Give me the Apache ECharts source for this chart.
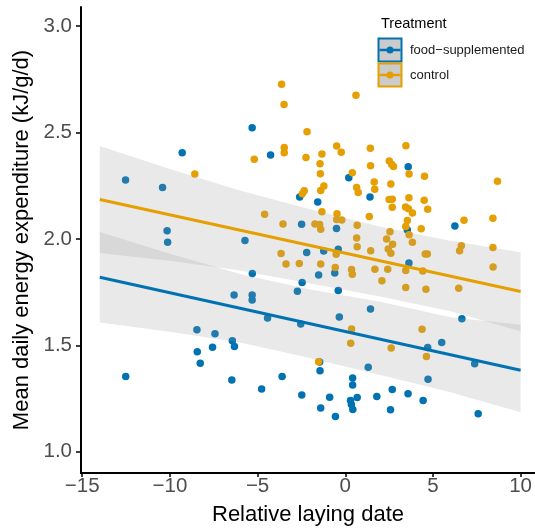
<!DOCTYPE html>
<html><head><meta charset="utf-8">
<script src="https://cdn.jsdelivr.net/npm/echarts@6/dist/echarts.min.js"></script>
<style>html,body{margin:0;padding:0;background:#fff}#c{width:535px;height:528px}</style>
</head><body><div id="c"></div>
<script>
// ---- data ----
const xTicks = [-15, -10, -5, 0, 5, 10];
const yTicks = [1.0, 1.5, 2.0, 2.5, 3.0];
const groups = ['food\u2212supplemented', 'control'];

const foodX = [-12.53,-12.52,-10.42,-10.16,-10.13,-9.3,-8.46,-8.44,-8.27,-7.57,-7.43,-6.47,-6.44,-6.32,-6.34,-5.72,-5.31,-5.3,-5.31,-5.31,-4.77,-4.43,-4.26,-3.6,-2.73,-2.6,-2.49,-2.46,-2.54,-2.48,-2.2,-1.57,-1.52,-1.44,-1.46,-1.4,-1.23,-0.89,-0.56,-0.6,-0.5,-0.4,-0.4,-0.34,0.2,0.3,0.35,0.42,0.42,0.43,0.68,1.31,1.41,1.44,1.8,2.58,2.68,3.59,3.54,3.63,3.58,4.44,4.7,4.72,5.5,6.25,6.65,7.38,7.58];
const foodY = [2.277,1.353,2.242,2.038,1.984,2.405,1.573,1.47,1.416,1.491,1.555,1.337,1.521,1.495,1.737,1.993,2.522,1.838,1.736,1.713,1.295,1.629,2.394,1.353,1.754,2.197,2.069,1.795,1.6,1.267,1.936,2.174,1.831,1.38,1.422,1.205,1.943,1.256,1.166,1.84,2.049,1.951,1.758,1.633,2.288,1.241,1.222,1.346,1.314,1.198,1.255,1.397,2.197,1.671,1.259,1.197,1.292,2.339,2.042,1.887,1.272,1.241,1.49,1.341,1.513,2.061,1.625,1.414,1.178];

const ctrlX = [-8.58,-5.19,-4.6,-3.63,-3.49,-3.48,-3.48,-3.55,-3.66,-3.38,-2.62,-2.18,-2.24,-2.34,-2.45,-1.73,-1.46,-1.4,-1.33,-1.4,-1.52,-1.4,-1.22,-1.42,-1.44,-1.33,-0.49,-0.23,-0.47,-0.49,-0.2,-0.52,-0.57,0.36,0.4,0.4,0.61,0.65,0.74,0.68,0.65,0.68,0.36,0.31,1.43,1.44,1.65,1.68,1.37,1.45,1.69,2.09,2.36,2.45,2.55,2.51,2.65,2.75,2.6,2.5,2.68,2.68,2.6,2.7,2.42,2.62,3.46,3.64,3.63,3.44,3.6,3.83,3.45,3.54,3.64,3.83,3.45,3.45,4.52,4.5,4.7,4.33,4.42,4.56,4.68,4.6,4.38,4.63,6.77,6.62,6.52,6.47,8.42,8.68,8.42,8.43];
const ctrlY = [2.305,2.375,2.116,2.727,2.632,2.43,2.405,2.07,1.932,1.882,1.884,2.504,2.383,2.226,2.212,2.07,2.068,2.045,2.128,1.882,1.423,2.228,2.249,2.306,2.353,2.399,2.437,2.407,2.118,2.091,2.089,1.928,1.866,1.856,1.834,2.311,2.675,2.242,2.218,2.064,2.004,1.963,1.577,1.51,2.426,2.344,2.268,2.233,2.105,1.945,1.857,1.803,2.0,1.953,2.034,2.366,2.35,2.341,2.258,2.185,2.186,2.149,1.933,1.975,1.858,1.487,2.438,2.305,2.194,2.15,2.142,2.122,2.059,2.087,2.02,1.985,1.852,1.772,2.295,2.182,2.14,2.048,1.849,1.929,1.929,1.763,1.575,1.447,2.088,1.968,1.944,1.768,2.097,2.271,1.96,1.868];

const fitX = [-14, 10];
const foodFit = [1.82, 1.383];
const ctrlFit = [2.185, 1.753];

const bandX = [-14, -10, -6, -2, 2, 6, 10];
const foodUpper = [2.033, 1.93, 1.835, 1.762, 1.705, 1.632, 1.597];
const foodLower = [1.607, 1.564, 1.513, 1.44, 1.36, 1.279, 1.185];
const ctrlUpper = [2.437, 2.329, 2.228, 2.14, 2.057, 1.991, 1.938];
const ctrlLower = [1.934, 1.897, 1.852, 1.79, 1.73, 1.66, 1.566];

// ---- build ----
const BLUE = '#0072B2', ORANGE = '#E69F00';
const zip = (a, b) => a.map((v, i) => [v, b[i]]);
const fmtMinus = v => String(v).replace('-', '\u2212');

function band(upper, lower, z) {
  return {
    type: 'custom', z: z, silent: true,
    data: [[0, 2]],
    renderItem: function (params, api) {
      const pts = [];
      for (let i = 0; i < bandX.length; i++) pts.push(api.coord([bandX[i], upper[i]]));
      for (let i = bandX.length - 1; i >= 0; i--) pts.push(api.coord([bandX[i], lower[i]]));
      return { type: 'polygon', shape: { points: pts }, style: { fill: 'rgba(153,153,153,0.22)' } };
    }
  };
}

const chart = echarts.init(document.getElementById('c'), null, { renderer: 'canvas' });
const legendKey = (y, color, label) => [
  { type: 'rect', shape: { x: 378.5, y: y, width: 23, height: 23 }, style: { fill: '#cbcbcb', stroke: color, lineWidth: 2 }, z: 10 },
  { type: 'line', shape: { x1: 379.5, y1: y + 11.5, x2: 400.5, y2: y + 11.5 }, style: { stroke: color, lineWidth: 2.5 }, z: 11 },
  { type: 'circle', shape: { cx: 390, cy: y + 11.5, r: 3.5 }, style: { fill: color }, z: 12 },
  { type: 'text', x: 410, y: y + 11.5, style: { text: label, font: '13px "Liberation Sans", Arial, sans-serif', fill: '#1a1a1a', verticalAlign: 'middle' }, z: 12 }
];

chart.setOption({
  animation: false,
  backgroundColor: '#fff',
  grid: { left: 81, right: 0, top: 7, bottom: 55, containLabel: false, outerBoundsMode: 'none' },
  xAxis: {
    type: 'value', min: -15.07, max: 10.82,
    name: 'Relative laying date', nameLocation: 'middle', nameGap: 31,
    nameTextStyle: { fontSize: 22, color: '#000', fontFamily: 'Liberation Sans' },
    axisLine: { show: true, onZero: false, lineStyle: { color: '#000', width: 2 } },
    axisTick: { show: true, length: 4, lineStyle: { color: '#000', width: 1.5 }, customValues: xTicks },
    axisLabel: { fontSize: 20.5, color: '#4d4d4d', fontFamily: 'Liberation Sans', margin: 3, customValues: xTicks, formatter: fmtMinus },
    splitLine: { show: false }
  },
  yAxis: {
    type: 'value', min: 0.9, max: 3.09,
    name: 'Mean daily energy expenditure (kJ/g/d)', nameLocation: 'middle', nameGap: 46, nameRotate: 90,
    nameTextStyle: { fontSize: 22, color: '#000', fontFamily: 'Liberation Sans' },
    axisLine: { show: true, onZero: false, lineStyle: { color: '#000', width: 2 } },
    axisTick: { show: true, length: 5, lineStyle: { color: '#000', width: 1.5 }, customValues: yTicks },
    axisLabel: { fontSize: 20.5, color: '#4d4d4d', fontFamily: 'Liberation Sans', margin: 9, customValues: yTicks, formatter: v => Number(v).toFixed(1) },
    splitLine: { show: false }
  },
  series: [
    { name: groups[0], type: 'scatter', data: zip(foodX, foodY), symbolSize: 7.5, itemStyle: { color: BLUE, opacity: 1 }, z: 2 },
    { name: groups[1], type: 'scatter', data: zip(ctrlX, ctrlY), symbolSize: 7.5, itemStyle: { color: ORANGE, opacity: 1 }, z: 2 },
    band(foodUpper, foodLower, 3),
    band(ctrlUpper, ctrlLower, 3),
    { type: 'line', data: zip(fitX, foodFit), symbol: 'none', lineStyle: { color: BLUE, width: 3 }, z: 4, silent: true },
    { type: 'line', data: zip(fitX, ctrlFit), symbol: 'none', lineStyle: { color: ORANGE, width: 3 }, z: 4, silent: true }
  ],
  graphic: [
    { type: 'text', x: 381, y: 24, style: { text: 'Treatment', font: '14.5px "Liberation Sans", Arial, sans-serif', fill: '#000', verticalAlign: 'middle' }, z: 12 },
    ...legendKey(38.5, BLUE, groups[0]),
    ...legendKey(63.5, ORANGE, groups[1])
  ]
});
</script>
</body></html>
